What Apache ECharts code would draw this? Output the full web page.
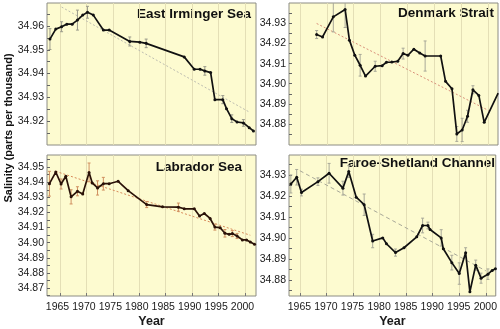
<!DOCTYPE html>
<html>
<head>
<meta charset="utf-8">
<script src="https://cdn.jsdelivr.net/npm/echarts@6/dist/echarts.min.js"></script>
<style>
html,body{margin:0;padding:0;background:#fff;}
#chart{width:500px;height:329px;}
</style>
</head>
<body>
<div id="chart"></div>
<script>
// ---- Data ----
const panelTitles = ['East Irminger Sea', 'Denmark Strait', 'Labrador Sea', 'Faroe-Shetland Channel'];
const yearTicks = [1965, 1970, 1975, 1980, 1985, 1990, 1995, 2000];

const irmYears = [1963.1,1964.2,1965.3,1966.3,1967.3,1968.3,1969.3,1970.2,1971.3,1973.2,1974.3,1978.2,1980.1,1981.3,1988.5,1990.4,1991.5,1992.4,1993.5,1994.3,1995.8,1996.5,1997.5,1998.5,1999.7,2000.8,2001.6];
const irmSal   = [34.9545,34.9587,34.9597,34.9608,34.9608,34.9625,34.9646,34.9658,34.9646,34.9583,34.9583,34.9535,34.9532,34.9527,34.9470,34.9418,34.9418,34.9411,34.9404,34.9290,34.9290,34.9252,34.9210,34.9196,34.9192,34.9172,34.9158];
const irmErr   = [0.0044,0,0.0021,0,0,0.0042,0,0.0025,0,0,0,0.0019,0,0.0018,0,0,0,0.0018,0,0,0.0017,0,0.0016,0,0.0014,0,0];
const irmTrend = [[1965.3, 34.968], [2000.8, 34.9238]];
const irmTicks = [34.92, 34.93, 34.94, 34.95, 34.96];

const denYears = [1968.1,1969.2,1971.2,1973.4,1974.2,1975.2,1976.2,1977.2,1979.0,1980.3,1981.1,1982.1,1983.2,1984.2,1985.1,1986.2,1987.3,1988.3,1991.2,1992.1,1993.3,1994.2,1995.2,1996.2,1997.2,1998.3,1999.3,2001.9];
const denSal   = [34.9245,34.9233,34.9333,34.937,34.9217,34.9142,34.9092,34.9038,34.9087,34.909,34.9107,34.9108,34.9112,34.915,34.9142,34.9172,34.9153,34.9138,34.9138,34.9012,34.8975,34.875,34.877,34.8838,34.897,34.8942,34.8808,34.8953];
const denErr   = [0.002,0,0.0075,0.009,0,0,0.0054,0,0.0025,0,0,0,0,0.0027,0,0,0,0.0075,0,0,0,0.0037,0.0058,0.003,0.002,0,0,0];
const denTrend = [[1968.1, 34.93], [2000.1, 34.8867]];
const denTicks = [34.88, 34.89, 34.90, 34.91, 34.92, 34.93];

const labYears = [1963.0,1964.2,1965.2,1966.1,1967.1,1968.3,1969.3,1970.5,1971.1,1972.1,1973.2,1974.3,1976.0,1977.9,1981.4,1984.4,1987.4,1988.5,1990.4,1991.4,1992.3,1993.4,1994.3,1995.3,1996.2,1997.0,1997.6,1998.5,1999.5,2000.3,2001.0,2001.8];
const labSal   = [34.939,34.9467,34.9388,34.9439,34.9303,34.934,34.9322,34.9465,34.9395,34.9362,34.939,34.939,34.9406,34.9344,34.9252,34.9237,34.9235,34.9224,34.9224,34.9176,34.9193,34.916,34.9103,34.9099,34.9062,34.9055,34.906,34.9044,34.9018,34.9018,34.9005,34.8989];
const labErr   = [0.0082,0,0.0033,0,0.0047,0.003,0,0.0062,0,0.0047,0.0042,0,0,0,0.002,0,0.0027,0,0,0,0,0,0.002,0,0.0025,0,0.002,0.0017,0,0,0,0];
const labTrend = [[1964.2, 34.9472], [2001.0, 34.9049]];
const labTicks = [34.87, 34.88, 34.89, 34.90, 34.91, 34.92, 34.93, 34.94, 34.95];

const farYears = [1963.3,1964.4,1965.3,1968.4,1970.5,1973.1,1974.2,1975.6,1977.1,1978.7,1980.6,1981.3,1983.0,1984.6,1987.0,1988.1,1989.1,1989.5,1991.6,1992.0,1993.6,1995.0,1996.2,1997.0,1998.1,1999.1,2000.4,2001.2,2001.8];
const farSal   = [34.9257,34.9289,34.9216,34.9268,34.9308,34.9237,34.9316,34.9194,34.9158,34.8985,34.9,34.8972,34.893,34.8953,34.9005,34.9059,34.9059,34.904,34.9,34.8948,34.8882,34.883,34.8929,34.8743,34.887,34.8808,34.8827,34.8845,34.8853];
const farErr   = [0.0043,0.0037,0.0016,0.0018,0.0047,0.0033,0.0028,0,0.0051,0.0032,0,0,0.0017,0,0,0.0035,0.0016,0,0.0039,0,0.0035,0.0051,0.0024,0,0.0024,0.0024,0.0025,0,0];
const farTrend = [[1965.0, 34.932], [2000.0, 34.8843]];
const farTicks = [34.88, 34.89, 34.90, 34.91, 34.92, 34.93];

// ---- Layout / style ----
const FONT = 'Liberation Sans';
const panels = [
  {left:47,  top:3,   xmin:1962.54, xmax:2002.08, ymin:34.9099, ymax:34.9697, years:irmYears, sal:irmSal, err:irmErr, trend:irmTrend, ticks:irmTicks,
   lineColor:'#111', errColor:'#9a9a8a', trendColor:'#bdbdb0', trendType:[2,2], showX:false, titleRight:251, titleY:14},
  {left:289, top:3,   xmin:1962.95, xmax:2001.87, ymin:34.8695, ymax:34.9402, years:denYears, sal:denSal, err:denErr, trend:denTrend, ticks:denTicks,
   lineColor:'#111', errColor:'#a8a898', trendColor:'#d9907a', trendType:[2,2], showX:false, titleRight:494, titleY:13},
  {left:47,  top:155, xmin:1962.54, xmax:2002.08, ymin:34.8647, ymax:34.9580, years:labYears, sal:labSal, err:labErr, trend:labTrend, ticks:labTicks,
   lineColor:'#2a1208', errColor:'#d09060', trendColor:'#d88a5a', trendType:[2,2], showX:true, titleRight:242, titleY:167},
  {left:289, top:155, xmin:1962.95, xmax:2001.87, ymin:34.8723, ymax:34.9395, years:farYears, sal:farSal, err:farErr, trend:farTrend, ticks:farTicks,
   lineColor:'#111', errColor:'#a8a898', trendColor:'#a8a898', trendType:[4,3], showX:true, titleRight:495, titleY:163}
];

const grids = [], xAxes = [], yAxes = [], series = [], graphics = [];
panels.forEach((p, i) => {
  grids.push({left:p.left, top:p.top, width:209, height:142, show:true,
    backgroundColor:'#fdfbd0', borderColor:'#8c8c84', borderWidth:1});
  xAxes.push({type:'value', gridIndex:i, min:p.xmin, max:p.xmax,
    axisLine:{show:false},
    axisTick:{show:p.showX, inside:true, length:3, customValues:yearTicks, lineStyle:{color:'#777'}},
    splitLine:{show:true, lineStyle:{color:'#e4dfb6', width:1}},
    axisLabel:{show:p.showX, customValues:yearTicks, color:'#1a1a1a', fontFamily:FONT, fontSize:10.5, margin:6,
      padding:[0, (i === 2 ? 5 : 1), 0, 0], formatter: v => String(Math.round(v))},
    name: p.showX ? 'Year' : '', nameLocation:'middle', nameGap:19,
    nameTextStyle:{fontFamily:FONT, fontWeight:'bold', fontSize:12.5, color:'#1a1a1a'}
  });
  const half = [];
  for (let k = 0; k < p.ticks.length; k++) {
    half.push(p.ticks[k]);
    half.push(+(p.ticks[k] + 0.005).toFixed(3));
  }
  half.unshift(+(p.ticks[0] - 0.005).toFixed(3));
  const halfIn = half.filter(v => v > p.ymin && v < p.ymax);
  yAxes.push({type:'value', gridIndex:i, min:p.ymin, max:p.ymax,
    axisLine:{show:false},
    axisTick:{show:true, inside:true, length:3, customValues:halfIn, lineStyle:{color:'#666'}},
    splitLine:{show:false},
    axisLabel:{customValues:p.ticks, color:'#1a1a1a', fontFamily:FONT, fontSize:10.5, margin:3,
      formatter: v => v.toFixed(2)}
  });
  // trend line
  series.push({type:'line', xAxisIndex:i, yAxisIndex:i, data:p.trend, symbol:'none', silent:true,
    lineStyle:{color:p.trendColor, width:1, type:p.trendType}, z:2});
  // error bars
  const errData = p.years.map((y, k) => [y, p.sal[k] - p.err[k], p.sal[k] + p.err[k], p.err[k]]).filter(d => d[3] > 0);
  series.push({type:'custom', xAxisIndex:i, yAxisIndex:i, data:errData, clip:true, silent:true, z:3,
    encode:{x:0, y:[1,2]},
    renderItem:(params, api) => {
      const x = api.value(0);
      const a = api.coord([x, api.value(1)]);
      const b = api.coord([x, api.value(2)]);
      const st = {stroke:p.errColor, lineWidth:1};
      return {type:'group', children:[
        {type:'line', shape:{x1:a[0], y1:a[1], x2:b[0], y2:b[1]}, style:st},
        {type:'line', shape:{x1:a[0]-1.5, y1:a[1], x2:a[0]+1.5, y2:a[1]}, style:st},
        {type:'line', shape:{x1:b[0]-1.5, y1:b[1], x2:b[0]+1.5, y2:b[1]}, style:st}
      ]};
    }
  });
  // main series
  series.push({type:'line', xAxisIndex:i, yAxisIndex:i, data:p.years.map((y, k) => [y, p.sal[k]]),
    symbol:'circle', symbolSize:3, showSymbol:true, z:4,
    itemStyle:{color:p.lineColor}, lineStyle:{color:p.lineColor, width:1.7}});
  graphics.push({type:'text', x:p.titleRight, y:p.titleY,
    style:{text:panelTitles[i], fontFamily:FONT, fontWeight:'bold', fontSize:13.5, fill:'#111',
      textAlign:'right', textVerticalAlign:'middle'}});
});

graphics.push({type:'text', x:3, y:128, rotation:Math.PI/2,
  style:{text:'Salinity (parts per thousand)', fontFamily:FONT, fontWeight:'bold', fontSize:11, fill:'#111',
    textAlign:'center', textVerticalAlign:'top'}});

const chart = echarts.init(document.getElementById('chart'), null, {renderer:'canvas'});
chart.setOption({
  animation:false,
  backgroundColor:'#ffffff',
  grid:grids, xAxis:xAxes, yAxis:yAxes, series:series, graphic:graphics
});
</script>
</body>
</html>
